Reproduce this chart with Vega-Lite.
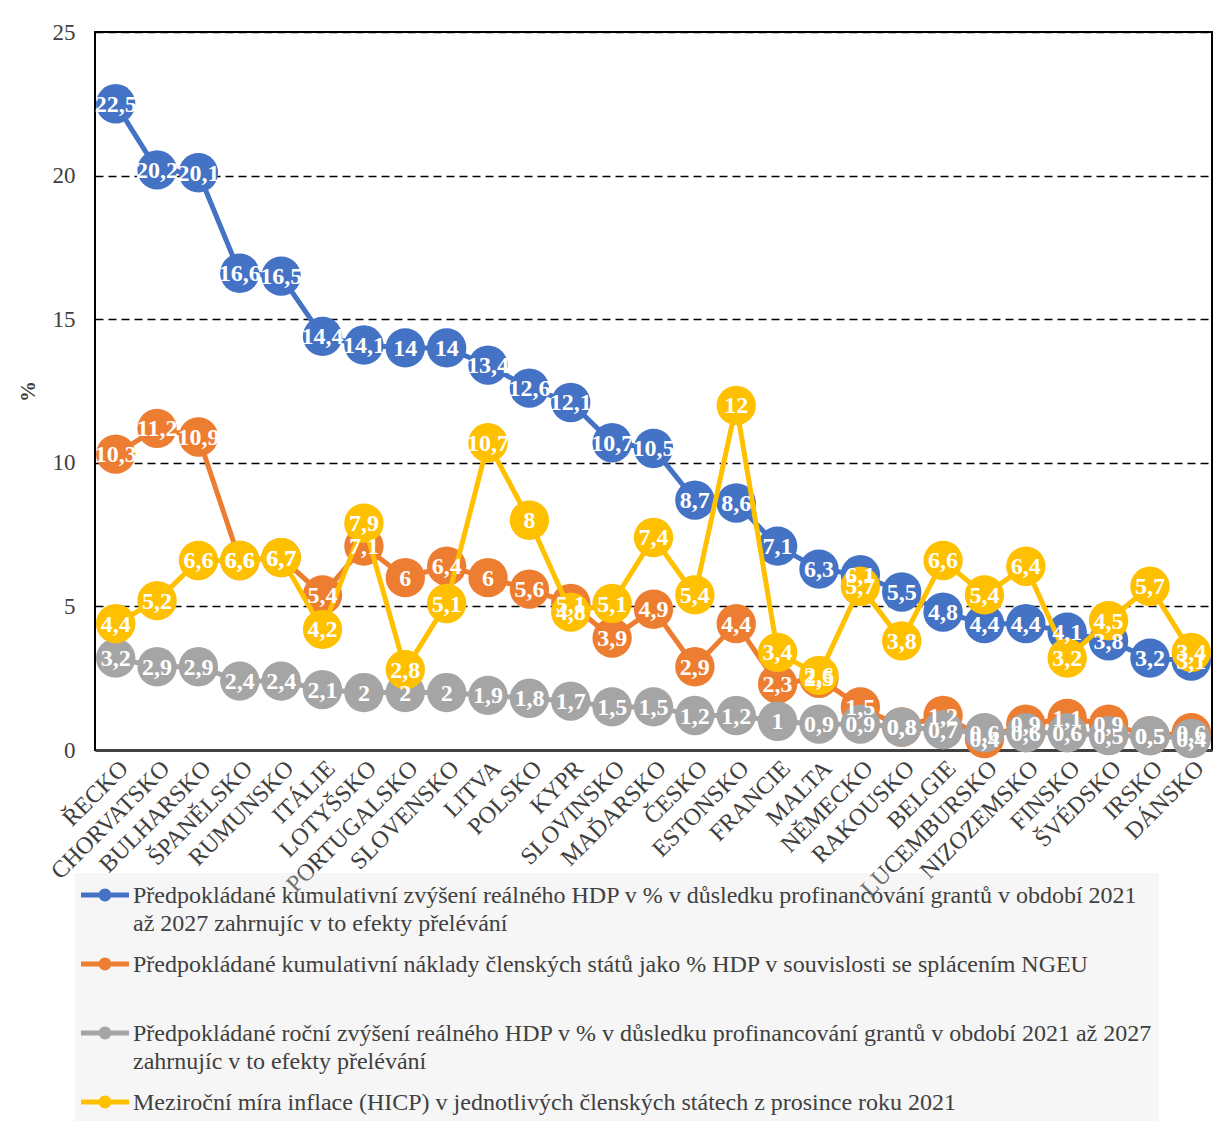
{
  "$schema": "https://vega.github.io/schema/vega-lite/v6.json",
  "width": 1117,
  "height": 718,
  "autosize": {"type": "none"},
  "padding": {"left": 95, "top": 32, "right": 15, "bottom": 379},
  "background": "white",
  "config": {
    "font": "Liberation Serif",
    "locale": {"number": {"decimal": ",", "thousands": " ", "grouping": [3], "currency": ["", " Kč"]}},
    "view": {"stroke": "black", "strokeWidth": 2}
  },
  "data": {
    "values": [
      {"stat": "ŘECKO", "hdp_kumulativni": 22.5, "naklady": 10.3, "hdp_rocni": 3.2, "inflace": 4.4},
      {"stat": "CHORVATSKO", "hdp_kumulativni": 20.2, "naklady": 11.2, "hdp_rocni": 2.9, "inflace": 5.2},
      {"stat": "BULHARSKO", "hdp_kumulativni": 20.1, "naklady": 10.9, "hdp_rocni": 2.9, "inflace": 6.6},
      {"stat": "ŠPANĚLSKO", "hdp_kumulativni": 16.6, "naklady": 6.6, "hdp_rocni": 2.4, "inflace": 6.6},
      {"stat": "RUMUNSKO", "hdp_kumulativni": 16.5, "naklady": 6.7, "hdp_rocni": 2.4, "inflace": 6.7},
      {"stat": "ITÁLIE", "hdp_kumulativni": 14.4, "naklady": 5.4, "hdp_rocni": 2.1, "inflace": 4.2},
      {"stat": "LOTYŠSKO", "hdp_kumulativni": 14.1, "naklady": 7.1, "hdp_rocni": 2, "inflace": 7.9},
      {"stat": "PORTUGALSKO", "hdp_kumulativni": 14, "naklady": 6, "hdp_rocni": 2, "inflace": 2.8},
      {"stat": "SLOVENSKO", "hdp_kumulativni": 14, "naklady": 6.4, "hdp_rocni": 2, "inflace": 5.1},
      {"stat": "LITVA", "hdp_kumulativni": 13.4, "naklady": 6, "hdp_rocni": 1.9, "inflace": 10.7},
      {"stat": "POLSKO", "hdp_kumulativni": 12.6, "naklady": 5.6, "hdp_rocni": 1.8, "inflace": 8},
      {"stat": "KYPR", "hdp_kumulativni": 12.1, "naklady": 5.1, "hdp_rocni": 1.7, "inflace": 4.8},
      {"stat": "SLOVINSKO", "hdp_kumulativni": 10.7, "naklady": 3.9, "hdp_rocni": 1.5, "inflace": 5.1},
      {"stat": "MAĎARSKO", "hdp_kumulativni": 10.5, "naklady": 4.9, "hdp_rocni": 1.5, "inflace": 7.4},
      {"stat": "ČESKO", "hdp_kumulativni": 8.7, "naklady": 2.9, "hdp_rocni": 1.2, "inflace": 5.4},
      {"stat": "ESTONSKO", "hdp_kumulativni": 8.6, "naklady": 4.4, "hdp_rocni": 1.2, "inflace": 12},
      {"stat": "FRANCIE", "hdp_kumulativni": 7.1, "naklady": 2.3, "hdp_rocni": 1, "inflace": 3.4},
      {"stat": "MALTA", "hdp_kumulativni": 6.3, "naklady": 2.5, "hdp_rocni": 0.9, "inflace": 2.6},
      {"stat": "NĚMECKO", "hdp_kumulativni": 6.1, "naklady": 1.5, "hdp_rocni": 0.9, "inflace": 5.7},
      {"stat": "RAKOUSKO", "hdp_kumulativni": 5.5, "naklady": 0.8, "hdp_rocni": 0.8, "inflace": 3.8},
      {"stat": "BELGIE", "hdp_kumulativni": 4.8, "naklady": 1.2, "hdp_rocni": 0.7, "inflace": 6.6},
      {"stat": "LUCEMBURSKO", "hdp_kumulativni": 4.4, "naklady": 0.4, "hdp_rocni": 0.6, "inflace": 5.4},
      {"stat": "NIZOZEMSKO", "hdp_kumulativni": 4.4, "naklady": 0.9, "hdp_rocni": 0.6, "inflace": 6.4},
      {"stat": "FINSKO", "hdp_kumulativni": 4.1, "naklady": 1.1, "hdp_rocni": 0.6, "inflace": 3.2},
      {"stat": "ŠVÉDSKO", "hdp_kumulativni": 3.8, "naklady": 0.9, "hdp_rocni": 0.5, "inflace": 4.5},
      {"stat": "IRSKO", "hdp_kumulativni": 3.2, "naklady": 0.5, "hdp_rocni": 0.5, "inflace": 5.7},
      {"stat": "DÁNSKO", "hdp_kumulativni": 3.1, "naklady": 0.6, "hdp_rocni": 0.4, "inflace": 3.4}
    ]
  },
  "transform": [
    {"fold": ["hdp_kumulativni", "naklady", "hdp_rocni", "inflace"], "as": ["rada", "hodnota"]}
  ],
  "encoding": {
    "x": {
      "field": "stat",
      "type": "nominal",
      "sort": null,
      "axis": {
        "title": null,
        "labelAngle": -45,
        "labelFont": "Liberation Serif",
        "labelFontSize": 24,
        "labelColor": "#404040",
        "labelLimit": 400,
        "ticks": false,
        "grid": false,
        "domainColor": "#404040",
        "domainWidth": 3,
        "labelPadding": 6
      }
    },
    "y": {
      "field": "hodnota",
      "type": "quantitative",
      "scale": {"domain": [0, 25], "nice": false},
      "axis": {
        "title": "%",
        "titleFont": "Liberation Serif",
        "titleFontWeight": "bold",
        "titleFontSize": 21,
        "titleColor": "#404040",
        "titlePadding": 14,
        "values": [0, 5, 10, 15, 20, 25],
        "labelFont": "Liberation Serif",
        "labelFontSize": 23,
        "labelColor": "#404040",
        "labelPadding": 20,
        "ticks": false,
        "domain": false,
        "grid": true,
        "gridColor": "black",
        "gridDash": [8, 5],
        "gridWidth": 1.5
      }
    },
    "color": {
      "field": "rada",
      "type": "nominal",
      "scale": {
        "domain": ["hdp_kumulativni", "naklady", "hdp_rocni", "inflace"],
        "range": ["#4472C4", "#ED7D31", "#A5A5A5", "#FFC000"]
      },
      "legend": {
        "orient": "none",
        "legendX": -20,
        "legendY": 841,
        "direction": "vertical",
        "title": null,
        "fillColor": "rgba(224,224,224,0.3)",
        "padding": 6,
        "labelFont": "Liberation Serif",
        "labelFontSize": 24,
        "labelColor": "#404040",
        "labelLimit": 1200,
        "labelOffset": 20,
        "labelBaseline": "alphabetic",
        "labelExpr": "datum.value == 'hdp_kumulativni' ? ['Předpokládané kumulativní zvýšení reálného HDP v % v důsledku profinancování grantů v období 2021', 'až 2027 zahrnujíc v to efekty přelévání'] : datum.value == 'naklady' ? ['Předpokládané kumulativní náklady členských států jako % HDP v souvislosti se splácením NGEU', ''] : datum.value == 'hdp_rocni' ? ['Předpokládané roční zvýšení reálného HDP v % v důsledku profinancování grantů v období 2021 až 2027', 'zahrnujíc v to efekty přelévání'] : 'Meziroční míra inflace (HICP) v jednotlivých členských státech z prosince roku 2021'",
        "symbolType": "M-1,-0.156H0.12V0.156H-1ZM0.88,-0.156H2V0.156H0.88ZM0.1,0A0.4,0.4,0,1,1,0.9,0A0.4,0.4,0,1,1,0.1,0Z",
        "symbolSize": 1024,
        "symbolStrokeWidth": 0,
        "rowPadding": 12,
        "encode": {
          "symbols": {"update": {"fill": {"scale": "color", "field": "value"}, "stroke": {"value": "transparent"}, "opacity": {"value": 1}}},
          "labels": {"update": {"dy": {"value": 8}, "lineHeight": {"value": 28}}}
        }
      }
    }
  },
  "layer": [
    {
      "transform": [{"filter": "datum.rada == 'hdp_kumulativni'"}],
      "mark": {"type": "line", "strokeWidth": 5, "point": {"filled": true, "size": 1550, "opacity": 1}}
    },
    {
      "transform": [{"filter": "datum.rada == 'naklady'"}],
      "mark": {"type": "line", "strokeWidth": 5, "point": {"filled": true, "size": 1550, "opacity": 1}}
    },
    {
      "transform": [{"filter": "datum.rada == 'hdp_rocni'"}],
      "mark": {"type": "line", "strokeWidth": 5, "point": {"filled": true, "size": 1550, "opacity": 1}}
    },
    {
      "transform": [{"filter": "datum.rada == 'inflace'"}],
      "mark": {"type": "line", "strokeWidth": 5, "point": {"filled": true, "size": 1550, "opacity": 1}}
    },
    {
      "mark": {"type": "text", "font": "Liberation Serif", "fontWeight": "bold", "fontSize": 24, "baseline": "middle", "dy": 1},
      "encoding": {
        "text": {"field": "hodnota", "type": "quantitative", "format": "~g"},
        "color": {"value": "white"}
      }
    }
  ]
}
